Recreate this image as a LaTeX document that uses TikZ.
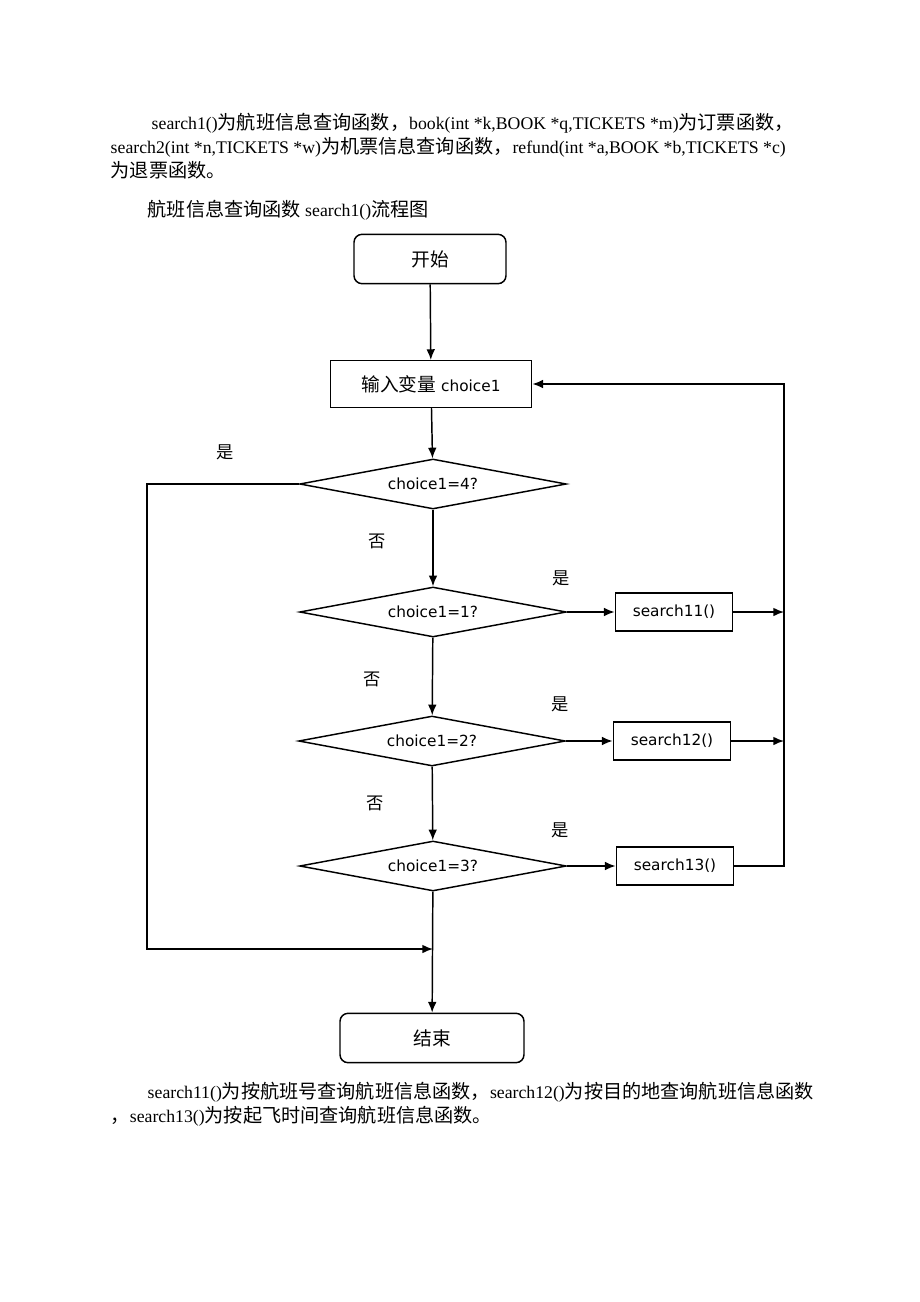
\documentclass[tikz,border=0pt]{standalone}
\usepackage{fontspec}
\setmainfont{Liberation Serif}
\newfontfamily\cjk[Scale=1.08]{Noto Sans CJK SC}
\newfontfamily\flow{DejaVu Sans}
\usepackage{tikz}
\usetikzlibrary{arrows.meta,shapes.geometric}

\newcommand{\zh}[1]{{\cjk #1}}

\tikzset{
  term/.style={draw, rounded corners=6pt, minimum height=37pt, font=\cjk\fontsize{13}{15}\selectfont},
  proc/.style={draw, minimum width=88pt, minimum height=28.5pt, font=\flow\fontsize{11.5}{13}\selectfont},
  decide/.style={draw, diamond, aspect=5.3, inner sep=0pt, minimum width=200pt, minimum height=37.5pt, font=\flow\fontsize{11.5}{13}\selectfont},
  yn/.style={font=\cjk\fontsize{12}{14}\selectfont},
  para/.style={anchor=west, inner sep=0pt, font=\fontsize{13.3}{15}\selectfont}
}

\begin{document}
\begin{tikzpicture}[x=0.75pt, y=-0.75pt, >={Latex[length=8pt,width=6.5pt]}, line width=1.1pt]

\useasboundingbox (0,0) rectangle (920,1302);

% text above the chart
\node[para] (p1) at (151,123) {search1()\zh{为航班信息查询函数，}book(int *k,BOOK *q,TICKETS *m)\zh{为订票函数，}};
\node[para] (p2) at (110,147) {search2(int *n,TICKETS *w)\zh{为机票信息查询函数，}refund(int *a,BOOK *b,TICKETS *c)};
\node[para] (p3) at (110,170) {\zh{为退票函数。}};
\node[para] (cap) at (147,210) {\zh{航班信息查询函数 }search1()\zh{流程图}};

% chart
\node[term, minimum width=114pt] (start) at (430,259) {开始};
\node[proc, minimum width=151pt, minimum height=35pt] (input) at (431,384) {\zh{\fontsize{13}{15}\selectfont 输入变量} choice1};

\node[decide] (d4) at (433,484) {choice1=4?};
\node[decide] (d1) at (433,612) {choice1=1?};
\node[decide] (d2) at (432,741) {choice1=2?};
\node[decide] (d3) at (433,866) {choice1=3?};

\node[proc] (s11) at (674,612) {search11()};
\node[proc] (s12) at (672,741) {search12()};
\node[proc] (s13) at (675,866) {search13()};

\node[term, minimum width=138pt] (end) at (432,1038) {结束};

\coordinate (r) at (784,0);
\coordinate (l) at (147,0);
\coordinate (join) at (433,949);

\draw[->] (start) -- (input);
\draw[->] (input) -- (d4);
\draw[->] (d4) -- (d1);
\draw[->] (d1) -- (d2);
\draw[->] (d2) -- (d3);
\draw[->] (d3) -- (end);

\draw[->] (d1.east) -- (s11.west);
\draw[->] (d2.east) -- (s12.west);
\draw[->] (d3.east) -- (s13.west);

\draw[->] (s11.east) -- (s11.east -| r);
\draw[->] (s12.east) -- (s12.east -| r);
\draw[->] (s13.east) -- (s13.east -| r) -- (input.east -| r) -- (input.east);

\draw[->] (d4.west) -- (d4.west -| l) |- (join);

% yes / no labels
\node[yn] (y4) at (225,452) {是};
\node[yn] (n4) at (377,541) {否};
\node[yn] (y1) at (561,578) {是};
\node[yn] (n1) at (372,679) {否};
\node[yn] (y2) at (560,704) {是};
\node[yn] (n2) at (375,803) {否};
\node[yn] (y3) at (560,830) {是};

% text below the chart
\node[para] (p4) at (147,1092) {search11()\zh{为按航班号查询航班信息函数，}search12()\zh{为按目的地查询航班信息函数}};
\node[para] (p5) at (110,1116) {\zh{，}search13()\zh{为按起飞时间查询航班信息函数。}};

\end{tikzpicture}
\end{document}
